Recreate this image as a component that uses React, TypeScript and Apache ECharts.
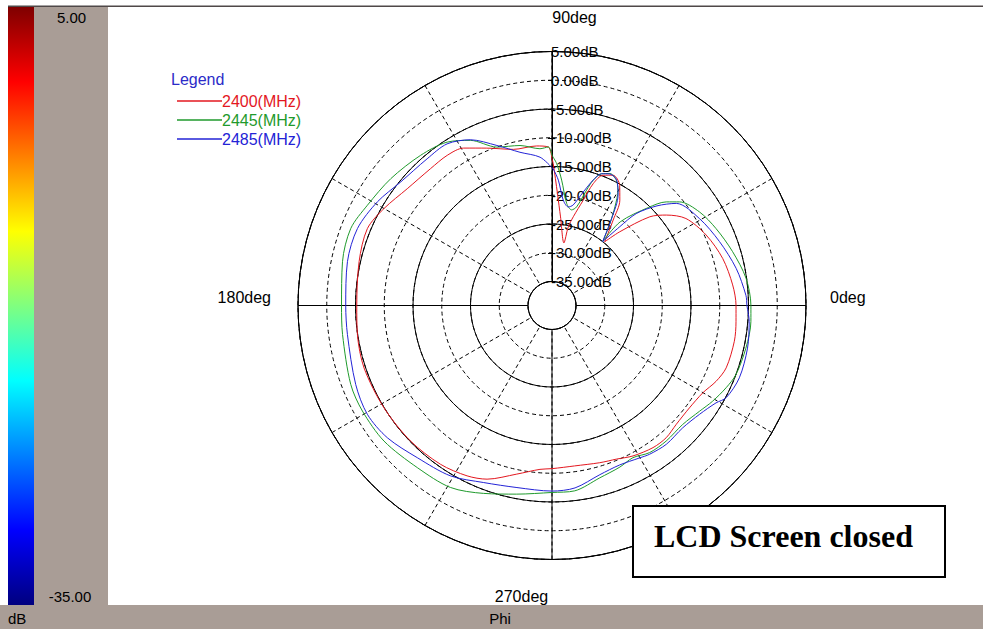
import React, { useEffect, useRef } from 'react';
import * as echarts from 'echarts';

// Frequencies / series names and colours
const freqNames = ['2400(MHz)', '2445(MHz)', '2485(MHz)'];
const seriesColors = ['#e3171f', '#1f9a2c', '#2323d6'];

// Radial scale (dB) and colour-bar labels
const dbMin = -35;
const dbMax = 5;
const dbStep = 5;
const colorbarTop = '5.00';
const colorbarBottom = '-35.00';
const angleLabels = ['0deg', '90deg', '180deg', '270deg'];

// [phi (deg), gain (dB)]
const red2400: [number, number][] = [
  [0, -7.17], [6.5, -7.55], [15.4, -8.38], [24.6, -9.7], [33, -11.4], [38.3, -13.8],
  [42.2, -16.2], [47.4, -21.75], [50.4, -24.8], [54.4, -20.9], [57.2, -17.4], [60.6, -15.2],
  [64.9, -14.15], [68.6, -14.85], [71.3, -16.8], [73.5, -20.1], [76.5, -23.3], [78.3, -25.2],
  [79.2, -28.1], [84.5, -23.7], [87.2, -19.7], [89.5, -14.5], [90, -13.7], [91.3, -11.6],
  [95.5, -11.3], [103.9, -11.2], [112.5, -9.55], [119.3, -7.78], [124.9, -7.33], [131.6, -7.35],
  [141.1, -6.83], [150, -5.44], [157.4, -4.39], [167.2, -4.77], [180, -5.22], [188.5, -4.96],
  [198.4, -4.73], [211.3, -4.96], [223.8, -5.11], [234.9, -5.43], [243.5, -6.07], [249.5, -6.93],
  [258.2, -9.22], [265.8, -10.6], [270, -10.8], [278, -11.0], [286.9, -10.6], [292.8, -10.2],
  [298.3, -9.46], [305.4, -8.85], [310.8, -8.79], [316.3, -9.27], [323.3, -9.37], [329.9, -8.87],
  [335.2, -7.74], [340.3, -7.0], [348.9, -6.86], [355, -7.05], [360, -7.17],
];

const green2445: [number, number][] = [
  [0, -4.58], [8, -5.1], [16.6, -6.4], [25.1, -7.66], [32.4, -8.8], [39.1, -10.6],
  [42.2, -12.35], [45.5, -15.3], [50.8, -20.4], [51.6, -25.0], [52.5, -24.1], [54.8, -21.7],
  [57.5, -18.8], [60.2, -16.1], [62.8, -14.7], [66.3, -14.1], [69.4, -14.7], [71.8, -16.25],
  [73.3, -18.2], [76, -21.5], [78.4, -22.2], [81.8, -21.25], [85.6, -17.3], [88.1, -14.5],
  [90, -13.06], [91.3, -11.6], [94.4, -11.83], [101.3, -10.8], [109.2, -10.0], [116.3, -7.14],
  [122.7, -5.41], [131.2, -4.47], [141.8, -3.5], [151.5, -2.64], [159.1, -1.7], [168.2, -1.95],
  [180, -2.57], [187.9, -2.4], [201.4, -1.58], [209.1, -1.44], [218.9, -1.63], [230.3, -2.52],
  [240.8, -2.93], [250, -4.4], [259.4, -5.8], [270, -6.66], [277, -6.7], [285.5, -8.07],
  [292.8, -8.7], [298, -9.2], [303.6, -8.47], [310.1, -8.35], [317.7, -8.44], [324.4, -7.6],
  [329.2, -6.66], [334.7, -5.69], [339.4, -5.0], [347.6, -4.65], [355.4, -4.47], [360, -4.58],
];

const blue2485: [number, number][] = [
  [0, -5.27], [3, -5.4], [11.4, -6.5], [20.9, -8.0], [30.5, -9.4], [39.4, -11.2],
  [43.5, -14.0], [47.5, -17.5], [49.3, -21.1], [51.6, -25.0], [55.6, -20.8], [59.1, -16.8],
  [62.8, -14.6], [66.3, -14.2], [69.4, -14.7], [71.8, -16.2], [74.6, -18.7], [78.1, -21.3],
  [80.6, -21.8], [83.9, -20.75], [87.1, -17.35], [89.5, -15.4], [90, -15.2], [94.6, -13.3],
  [101.8, -11.95], [109, -9.74], [116.2, -7.05], [123, -5.66], [130.4, -5.67], [140.8, -5.2],
  [149.3, -3.86], [158.4, -2.79], [167.9, -2.79], [180, -3.3], [188.1, -3.24], [201.9, -2.38],
  [210.5, -1.9], [218.8, -2.45], [228.5, -3.83], [239.2, -4.68], [248.9, -6.17], [259.1, -6.93],
  [270, -6.9], [277.2, -7.2], [285.8, -8.6], [293, -9.05], [299.9, -8.6], [303.3, -8.23],
  [309.5, -7.9], [316.9, -8.04], [323.6, -7.29], [329.3, -6.0], [332.1, -4.9], [338.9, -4.25],
  [347.7, -4.37], [355.4, -4.77], [360, -5.27],
];

const seriesData = [red2400, green2445, blue2485];

// Angle axis runs 90..450 so that the radius axis (with its dB labels) sits at 90deg.
function toPolar(pts: [number, number][]) {
  const out: [number, number][] = pts.map(([a, v]) => [v, a < 90 ? a + 360 : a]);
  pts.filter(([a]) => a === 90).forEach(([, v]) => out.push([v, 450]));
  out.sort((p, q) => p[1] - q[1]);
  return out;
}

const GREY = '#a99d96';
const FONT = '"Liberation Sans", Arial, sans-serif';
const CX = 552;
const CY = 305.5;

function txt(text: string, x: number, y: number, align: string, extra: any = {}) {
  return {
    type: 'text',
    x,
    y,
    z: 50,
    style: {
      text,
      fill: '#000',
      fontSize: 15,
      fontFamily: FONT,
      align,
      verticalAlign: 'middle',
      textAlign: align,
      textVerticalAlign: 'middle',
      ...extra,
    },
  };
}

export default function App() {
  const ref = useRef<HTMLDivElement>(null);

  useEffect(() => {
    if (!ref.current) return;
    const chart = echarts.init(ref.current, undefined, { renderer: 'svg' });

    const jet = new echarts.graphic.LinearGradient(0, 0, 0, 1, [
      { offset: 0, color: '#7f0000' },
      { offset: 0.125, color: '#ff0000' },
      { offset: 0.375, color: '#ffff00' },
      { offset: 0.625, color: '#00ffff' },
      { offset: 0.875, color: '#0000ff' },
      { offset: 1, color: '#00007f' },
    ]);

    const polarCommon = { center: [CX, CY], radius: [24, 254] };

    const option: any = {
      animation: false,
      backgroundColor: '#ffffff',
      polar: [polarCommon, polarCommon],
      angleAxis: [
        {
          polarIndex: 0,
          type: 'value',
          min: 90,
          max: 450,
          interval: 30,
          startAngle: 90,
          clockwise: false,
          axisLine: { show: true, lineStyle: { color: '#000', width: 1 } },
          axisTick: { show: false },
          axisLabel: { show: false },
          splitLine: { show: true, lineStyle: { color: '#000', width: 1, type: [4, 3] } },
        },
        {
          polarIndex: 1,
          type: 'value',
          min: 90,
          max: 450,
          interval: 90,
          startAngle: 90,
          clockwise: false,
          axisLine: { show: false },
          axisTick: { show: false },
          axisLabel: { show: false },
          splitLine: { show: true, lineStyle: { color: '#000', width: 1 } },
        },
      ],
      radiusAxis: [
        {
          polarIndex: 0,
          type: 'value',
          min: dbMin,
          max: dbMax,
          interval: dbStep,
          axisLine: { show: true, lineStyle: { color: '#000', width: 1 } },
          axisTick: { show: true, length: 4, lineStyle: { color: '#000' } },
          axisLabel: {
            show: true,
            formatter: (v: number) => v.toFixed(2) + 'dB',
            color: '#000',
            fontSize: 15,
            fontFamily: FONT,
            margin: 1,
            align: 'left',
            verticalAlign: 'middle',
          },
          splitLine: { show: true, lineStyle: { color: '#000', width: 1, type: [4, 3] } },
          z: 5,
        },
        {
          polarIndex: 1,
          type: 'value',
          min: 0,
          max: dbMax - dbMin,
          interval: 2 * dbStep,
          axisLine: { show: false },
          axisTick: { show: false },
          axisLabel: { show: false },
          splitLine: { show: true, lineStyle: { color: '#000', width: 1 } },
        },
      ],
      legend: {
        orient: 'vertical',
        left: 172,
        top: 88,
        itemWidth: 45,
        itemHeight: 1.5,
        itemGap: 3,
        icon: 'rect',
        selectedMode: false,
        textStyle: { fontSize: 16, fontFamily: FONT, padding: [0, 0, 0, -5] },
        data: freqNames.map((n, i) => ({ name: n, textStyle: { color: seriesColors[i] } })),
      },
      series: seriesData.map((d, i) => ({
        name: freqNames[i],
        type: 'line',
        coordinateSystem: 'polar',
        polarIndex: 0,
        data: toPolar(d),
        symbol: 'none',
        showSymbol: false,
        smooth: 0.3,
        lineStyle: { color: seriesColors[i], width: 1 },
        itemStyle: { color: seriesColors[i] },
        z: 10,
      })),
      graphic: {
        elements: [
          { type: 'rect', z: 1, shape: { x: 8, y: 7, width: 26, height: 598 }, style: { fill: jet } },
          { type: 'rect', z: 1, shape: { x: 34, y: 7, width: 74, height: 598 }, style: { fill: GREY } },
          { type: 'rect', z: 1, shape: { x: 0, y: 605, width: 983, height: 24 }, style: { fill: GREY } },
          { type: 'rect', z: 1, shape: { x: 8, y: 5.5, width: 975, height: 1.5 }, style: { fill: '#4f4848' } },
          txt(colorbarTop, 71.5, 17, 'center'),
          txt(colorbarBottom, 70, 596, 'center'),
          txt('dB', 8, 618, 'left'),
          txt('Phi', 500, 618, 'center'),
          txt(angleLabels[0], 830, 297, 'left', { fontSize: 16 }),
          txt(angleLabels[1], 574.5, 17, 'center', { fontSize: 16 }),
          txt(angleLabels[2], 271, 297, 'right', { fontSize: 16 }),
          txt(angleLabels[3], 521.5, 596, 'center', { fontSize: 16 }),
          txt('Legend', 171, 79, 'left', { fontSize: 16, fill: '#2b2bc8' }),
          {
            type: 'rect',
            z: 100,
            shape: { x: 633, y: 506, width: 312, height: 71 },
            style: { fill: '#ffffff', stroke: '#000000', lineWidth: 2 },
          },
          {
            type: 'text',
            z: 101,
            x: 654,
            y: 536,
            style: {
              text: 'LCD Screen closed',
              fill: '#000',
              fontSize: 32,
              fontWeight: 'bold',
              fontFamily: '"Liberation Serif", "Times New Roman", serif',
              align: 'left',
              verticalAlign: 'middle',
              textAlign: 'left',
              textVerticalAlign: 'middle',
            },
          },
        ],
      },
    };

    chart.setOption(option);
    return () => chart.dispose();
  }, []);

  return (
    <div
      ref={ref}
      style={{ position: 'fixed', left: 0, top: 0, width: 983, height: 629, background: '#fff' }}
    />
  );
}
